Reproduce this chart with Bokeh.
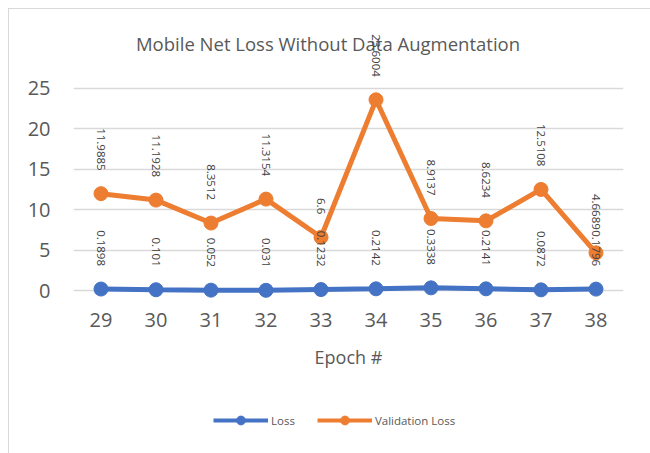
from bokeh.plotting import figure
from bokeh.layouts import column
from bokeh.models import (ColumnDataSource, Range1d, FixedTicker, LabelSet,
                          Legend, LegendItem, Label)
from bokeh.core.properties import value
from bokeh.embed import file_html
from bokeh.resources import INLINE

# ---- data ----
epochs = [29, 30, 31, 32, 33, 34, 35, 36, 37, 38]
loss = [0.1898, 0.101, 0.052, 0.031, 0.1232, 0.2142, 0.3338, 0.2141, 0.0872, 0.1796]
val_loss = [11.9885, 11.1928, 8.3512, 11.3154, 6.6, 23.6004, 8.9137, 8.6234, 12.5108, 4.6689]
y_ticks = [0, 5, 10, 15, 20, 25]
series_names = ["Loss", "Validation Loss"]
title_text = "Mobile Net Loss Without Data Augmentation"
x_title = "Epoch #"

BLUE = "#4472C4"
ORANGE = "#ED7D31"
FONT = "Open Sans"

src = ColumnDataSource(dict(
    x=epochs, loss=loss, val=val_loss,
    loss_txt=[f"{v:g}" for v in loss],
    val_txt=[f"{v:g}" for v in val_loss],
))

p = figure(frame_width=550, frame_height=277, output_backend="svg", toolbar_location=None,
           x_range=Range1d(28.5, 38.5), y_range=Range1d(-1.6, 32.67),
           min_border_left=64, min_border_right=28, min_border_top=17,
           min_border_bottom=80)
p.outline_line_color = None
p.background_fill_color = "white"
p.border_fill_color = "white"

# chart title (inside the plotting area, overlapping the tallest data label as in the original)
title = Label(x=254.5, y=260, x_units="screen", y_units="screen", text=title_text,
              text_align="center", text_baseline="alphabetic",
              text_font=FONT, text_font_size="18.5px", text_color="#595959")
p.add_layout(title)

# axes
p.xaxis.ticker = FixedTicker(ticks=epochs)
p.yaxis.ticker = FixedTicker(ticks=y_ticks)
for ax in (p.xaxis[0], p.yaxis[0]):
    ax.axis_line_color = None
    ax.major_tick_line_color = None
    ax.minor_tick_line_color = None
    ax.major_tick_out = 0
    ax.major_tick_in = 0
    ax.major_label_text_font = FONT
    ax.major_label_text_font_size = "20px"
    ax.major_label_text_color = "#595959"
p.yaxis.major_label_standoff = 23
p.xaxis.major_label_standoff = 9
p.xaxis.axis_label = x_title
p.xaxis.axis_label_text_font = FONT
p.xaxis.axis_label_text_font_size = "18px"
p.xaxis.axis_label_text_font_style = "normal"
p.xaxis.axis_label_text_color = "#595959"
p.xaxis.axis_label_standoff = 15

p.xgrid.grid_line_color = None
p.ygrid.grid_line_color = "#D9D9D9"
p.ygrid.grid_line_width = 1.5

# series
p.line("x", "loss", source=src, color=BLUE, line_width=5)
p.scatter("x", "loss", source=src, color=BLUE, size=14)
p.line("x", "val", source=src, color=ORANGE, line_width=5)
p.scatter("x", "val", source=src, color=ORANGE, size=14)

# data labels (rotated, above the points)
for col, txt in (("loss", "loss_txt"), ("val", "val_txt")):
    ls = LabelSet(x="x", y=col, text=txt, source=src, angle=-90, angle_units="deg",
                  text_align="right", text_baseline="middle", y_offset=23,
                  text_font=value(FONT), text_font_size=value("11.5px"),
                  text_color=value("#404040"))
    p.add_layout(ls)

# legend strip below the chart (same series, drawn outside its visible range)
leg = figure(width=642, height=71, output_backend="svg", toolbar_location=None,
             x_range=Range1d(0, 1), y_range=Range1d(100, 101),
             x_axis_location=None, y_axis_location=None,
             min_border_left=0, min_border_right=0, min_border_top=0, min_border_bottom=0)
leg.outline_line_color = None
leg.xgrid.visible = False
leg.ygrid.visible = False
items = []
for name, col, colr in zip(series_names, ("loss", "val"), (BLUE, ORANGE)):
    r1 = leg.line("x", col, source=src, color=colr, line_width=4)
    r2 = leg.scatter("x", col, source=src, color=colr, size=9)
    items.append(LegendItem(label=name, renderers=[r1, r2]))
legend = Legend(items=items, orientation="horizontal", location=(140, 23),
                glyph_width=55, glyph_height=22, label_height=22,
                label_standoff=3, spacing=22, padding=0, margin=0,
                label_text_font=FONT, label_text_font_size="11.5px",
                label_text_color="#595959", border_line_color=None,
                background_fill_alpha=0)
leg.add_layout(legend)

layout = column(p, leg, spacing=0, margin=(8, 0, 0, 8),
                styles={"border-left": "1px solid #D9D9D9",
                        "border-top": "1px solid #D9D9D9",
                        "border-bottom": "1px solid #D9D9D9",
                        "box-sizing": "border-box"})

open("out.html", "w").write(file_html(layout, INLINE))
